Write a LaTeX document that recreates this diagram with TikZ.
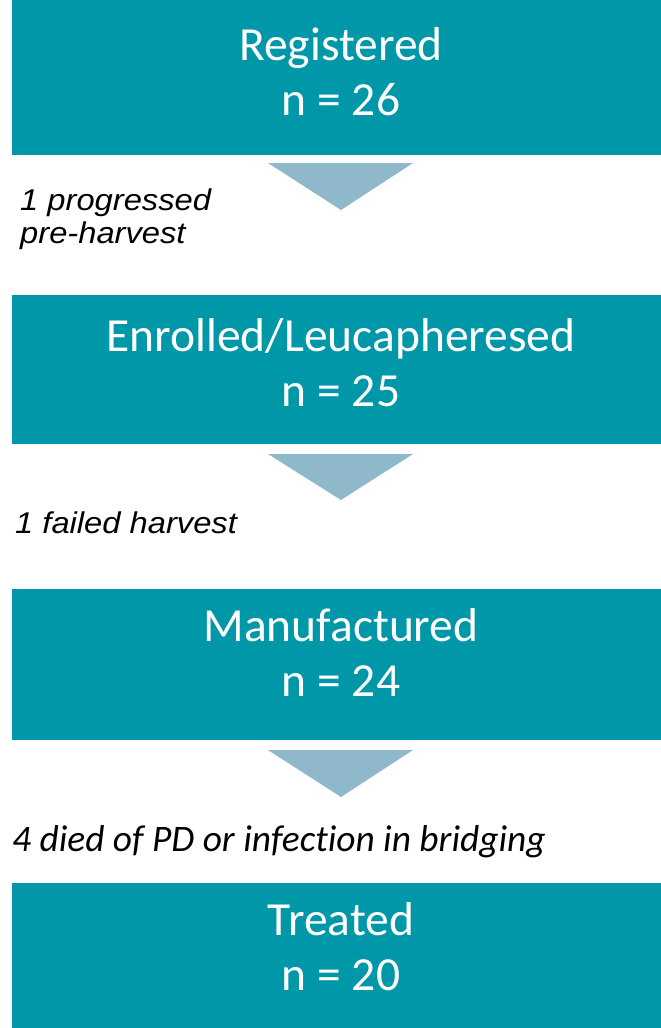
\documentclass[tikz,border=0pt]{standalone}
\usepackage{fontspec}
\setmainfont{Carlito}
\newfontfamily\arialfont{Liberation Sans}
\newfontfamily\calfont[Ligatures=NoCommon]{Carlito}
\definecolor{teal1}{RGB}{0,151,168}
\definecolor{tri}{RGB}{143,185,203}
\tikzset{
  box/.style={fill=teal1, draw=none, minimum width=658pt, inner sep=0pt},
  boxtext/.style={anchor=base, inner sep=0pt, align=center,
    text=white, font=\calfont\fontsize{47.5}{55}\selectfont},
  lbla/.style={anchor=base west, inner sep=0pt, align=left, text=black, xscale=1.09,
    font=\arialfont\itshape\fontsize{30}{33}\selectfont},
  lblc/.style={anchor=base west, inner sep=0pt, align=left, text=black,
    font=\calfont\itshape\fontsize{37.4}{40}\selectfont},
  arrowtri/.style={fill=tri, draw=none}
}
\begin{document}
\begin{tikzpicture}[x=1pt,y=-1pt]
\clip (0,0) rectangle (661,1028);
\fill[white] (0,0) rectangle (661,1028);
\node[box, minimum height=155pt] (b1) at (341,77.5) {};
\node[box, minimum height=149pt] (b2) at (341,369.5) {};
\node[box, minimum height=151pt] (b3) at (341,664.5) {};
\node[box, minimum height=145pt] (b4) at (341,955.5) {};
\node[boxtext] (t1) at (341,115) {Registered\\n = 26};
\node[boxtext] (t2) at (341,406) {Enrolled/Leucapheresed\\n = 25};
\node[boxtext] (t3) at (341,696) {Manufactured\\n = 24};
\node[boxtext] (t4) at (341,990) {Treated\\n = 20};
\fill[arrowtri] (268,163) -- (413,163) -- (341,210) -- cycle;
\fill[arrowtri] (268,454) -- (413,454) -- (341,500) -- cycle;
\fill[arrowtri] (268,750) -- (413,750) -- (341,797) -- cycle;
\node[lbla] (l1) at (20,243.5) {1 progressed\\pre-harvest};
\node[lbla] (l2) at (15,533) {1 failed harvest};
\node[lblc] (l3) at (12,851) {4 died of PD or infection in bridging};
\end{tikzpicture}
\end{document}
